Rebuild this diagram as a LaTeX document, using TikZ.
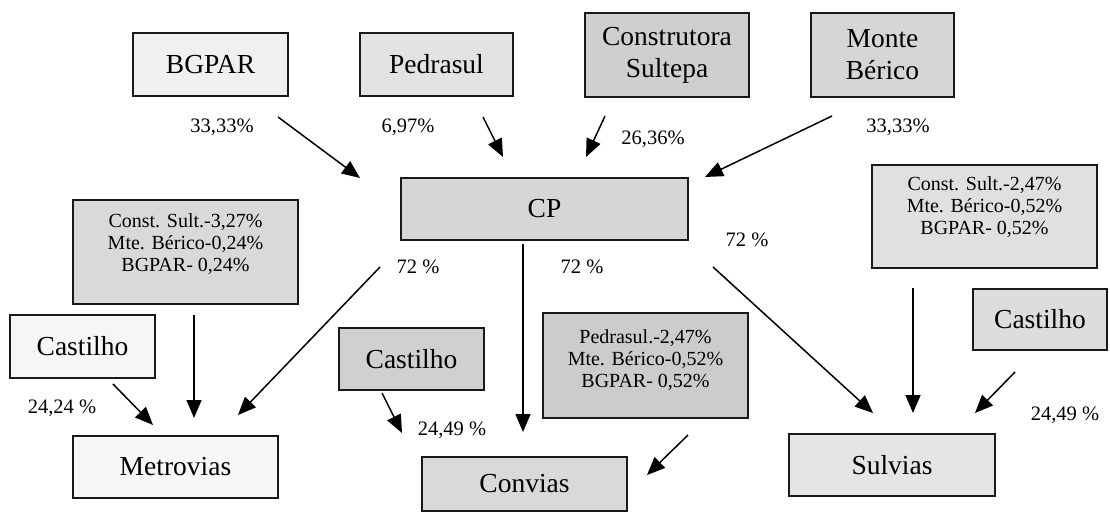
\documentclass[tikz,border=0pt]{standalone}
\usepackage{fontspec}
\setmainfont{Liberation Serif}
\usetikzlibrary{arrows.meta}
\begin{document}
\begin{tikzpicture}[x=1pt,y=-1pt,
  box/.style={draw=black!90, line width=1.7pt, inner sep=0pt, align=center,
    font=\fontsize{27.5}{32}\selectfont},
  smalltxt/.style={inner sep=0pt, align=center, font=\fontsize{20}{22}\selectfont},
  pct/.style={inner sep=0pt, font=\fontsize{20.5}{22}\selectfont},
  arr/.style={line width=1.5pt, -{Triangle[length=18pt,width=15pt]}}]
\useasboundingbox (0,0) rectangle (1110,516);
% top row
\node[box, fill=gray!12, minimum width=155, minimum height=63] (bgpar) at (210.5,64.5) {BGPAR};
\node[box, fill=gray!22, minimum width=153, minimum height=63] (pedrasul) at (436.5,64.5) {Pedrasul};
\node[box, fill=gray!38, minimum width=164, minimum height=84] (sultepa) at (667,55) {Construtora\\Sultepa};
\node[box, fill=gray!32, minimum width=143, minimum height=84] (monte) at (882.5,55) {Monte\\Bérico};
% CP
\node[box, fill=gray!32, minimum width=287, minimum height=62] (cp) at (544.5,209) {CP};
% multi-line boxes
\node[box, fill=gray!30, minimum width=225, minimum height=104] (csl) at (185.5,252) {};
\node[smalltxt] (cslt) at (185.5,244) {Const. Sult.-3,27\%\\Mte. Bérico-0,24\%\\BGPAR- 0,24\%};
\node[box, fill=gray!24, minimum width=225, minimum height=103] (csr) at (984.5,216.5) {};
\node[smalltxt] (csrt) at (984.5,207) {Const. Sult.-2,47\%\\Mte. Bérico-0,52\%\\BGPAR- 0,52\%};
\node[box, fill=gray!40, minimum width=205, minimum height=105] (pdm) at (645.5,365.5) {};
\node[smalltxt] (pdmt) at (645.5,360) {Pedrasul.-2,47\%\\Mte. Bérico-0,52\%\\BGPAR- 0,52\%};
% Castilho boxes
\node[box, fill=gray!7, minimum width=145, minimum height=63] (castl) at (82.5,346.5) {Castilho};
\node[box, fill=gray!37, minimum width=145, minimum height=62] (castm) at (411.5,359) {Castilho};
\node[box, fill=gray!27, minimum width=134, minimum height=61] (castr) at (1040,319.5) {Castilho};
% bottom boxes
\node[box, fill=gray!6, minimum width=205, minimum height=62] (metro) at (175.5,467) {Metrovias};
\node[box, fill=gray!30, minimum width=205, minimum height=54] (convias) at (524.5,484) {Convias};
\node[box, fill=gray!20, minimum width=206, minimum height=62] (sulvias) at (892,465) {Sulvias};
% percentage labels
\node[pct] (p1) at (222,127) {33,33\%};
\node[pct] (p2) at (408,127) {6,97\%};
\node[pct] (p3) at (653,139) {26,36\%};
\node[pct] (p4) at (898,127) {33,33\%};
\node[pct] (p5) at (418,267) {72 \%};
\node[pct] (p6) at (582,267) {72 \%};
\node[pct] (p7) at (747,240) {72 \%};
\node[pct] (p8) at (62,408) {24,24 \%};
\node[pct] (p9) at (452,430) {24,49 \%};
\node[pct] (p10) at (1065,415) {24,49 \%};
% arrow end points
\coordinate (a1) at (278,117); \coordinate (a2) at (360,178);
\coordinate (b1) at (483,117); \coordinate (b2) at (503,157);
\coordinate (c1) at (605,116); \coordinate (c2) at (586,157);
\coordinate (d1) at (832,116); \coordinate (d2) at (705,177);
\coordinate (e1) at (380,267); \coordinate (e2) at (238,415);
\coordinate (f1) at (194,315); \coordinate (f2) at (194,418);
\coordinate (g1) at (113,384); \coordinate (g2) at (153,425);
\coordinate (h1) at (523,244); \coordinate (h2) at (523,432);
\coordinate (i1) at (382,393); \coordinate (i2) at (402,433);
\coordinate (j1) at (688,435); \coordinate (j2) at (647,475);
\coordinate (k1) at (713,267); \coordinate (k2) at (873,413);
\coordinate (l1) at (913,288); \coordinate (l2) at (913,413);
\coordinate (m1) at (1015,372); \coordinate (m2) at (975,413);
\foreach \s in {a,b,c,d,e,f,g,h,i,j,k,l,m} {\draw[arr] (\s1) -- (\s2);}
\end{tikzpicture}
\end{document}
